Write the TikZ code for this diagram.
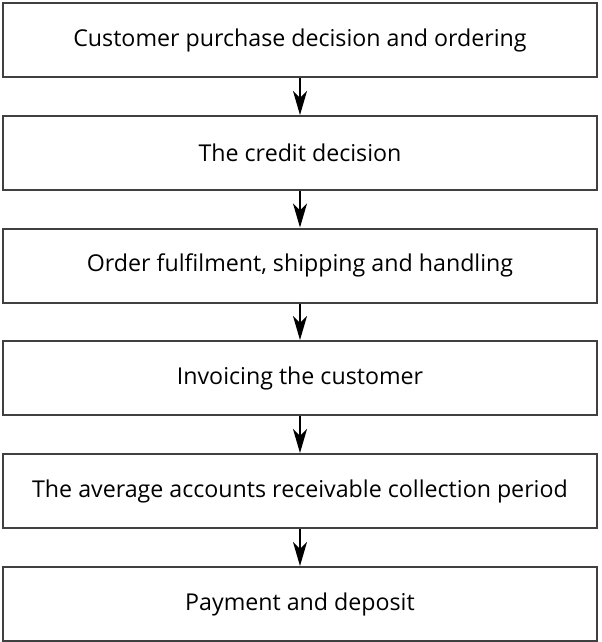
\documentclass[tikz,border=0pt]{standalone}
\usepackage{fontspec}
\setmainfont{Open Sans}
\usetikzlibrary{positioning,arrows.meta}

\begin{document}
\begin{tikzpicture}[x=0.5pt,y=-0.5pt,
        stage/.style={draw=black!75,line width=1pt,minimum width=297pt,minimum height=37pt,inner sep=0pt,font=\fontsize{11.6}{13}\selectfont},
        flow/.style={-{Stealth[length=12pt,width=7pt,inset=3.5pt]},line width=0.8pt}]
                                \useasboundingbox (0,0) rectangle (601,642);
                                \node[stage] (s1) at (300,40) {Customer purchase decision and ordering};
                                \node[stage] (s2) at (300,153) {The credit decision};
                                \node[stage] (s3) at (300,265.5) {Order fulfilment, shipping and handling};
                                \node[stage] (s4) at (300,378) {Invoicing the customer};
                                \node[stage] (s5) at (300,491) {The average accounts receivable collection period};
                                \node[stage] (s6) at (300,604) {Payment and deposit};

                                \draw[flow] (s1) -- (s2);
                                \draw[flow] (s2) -- (s3);
                                \draw[flow] (s3) -- (s4);
                                \draw[flow] (s4) -- (s5);
                                \draw[flow] (s5) -- (s6);
                            \end{tikzpicture}
\end{document}
